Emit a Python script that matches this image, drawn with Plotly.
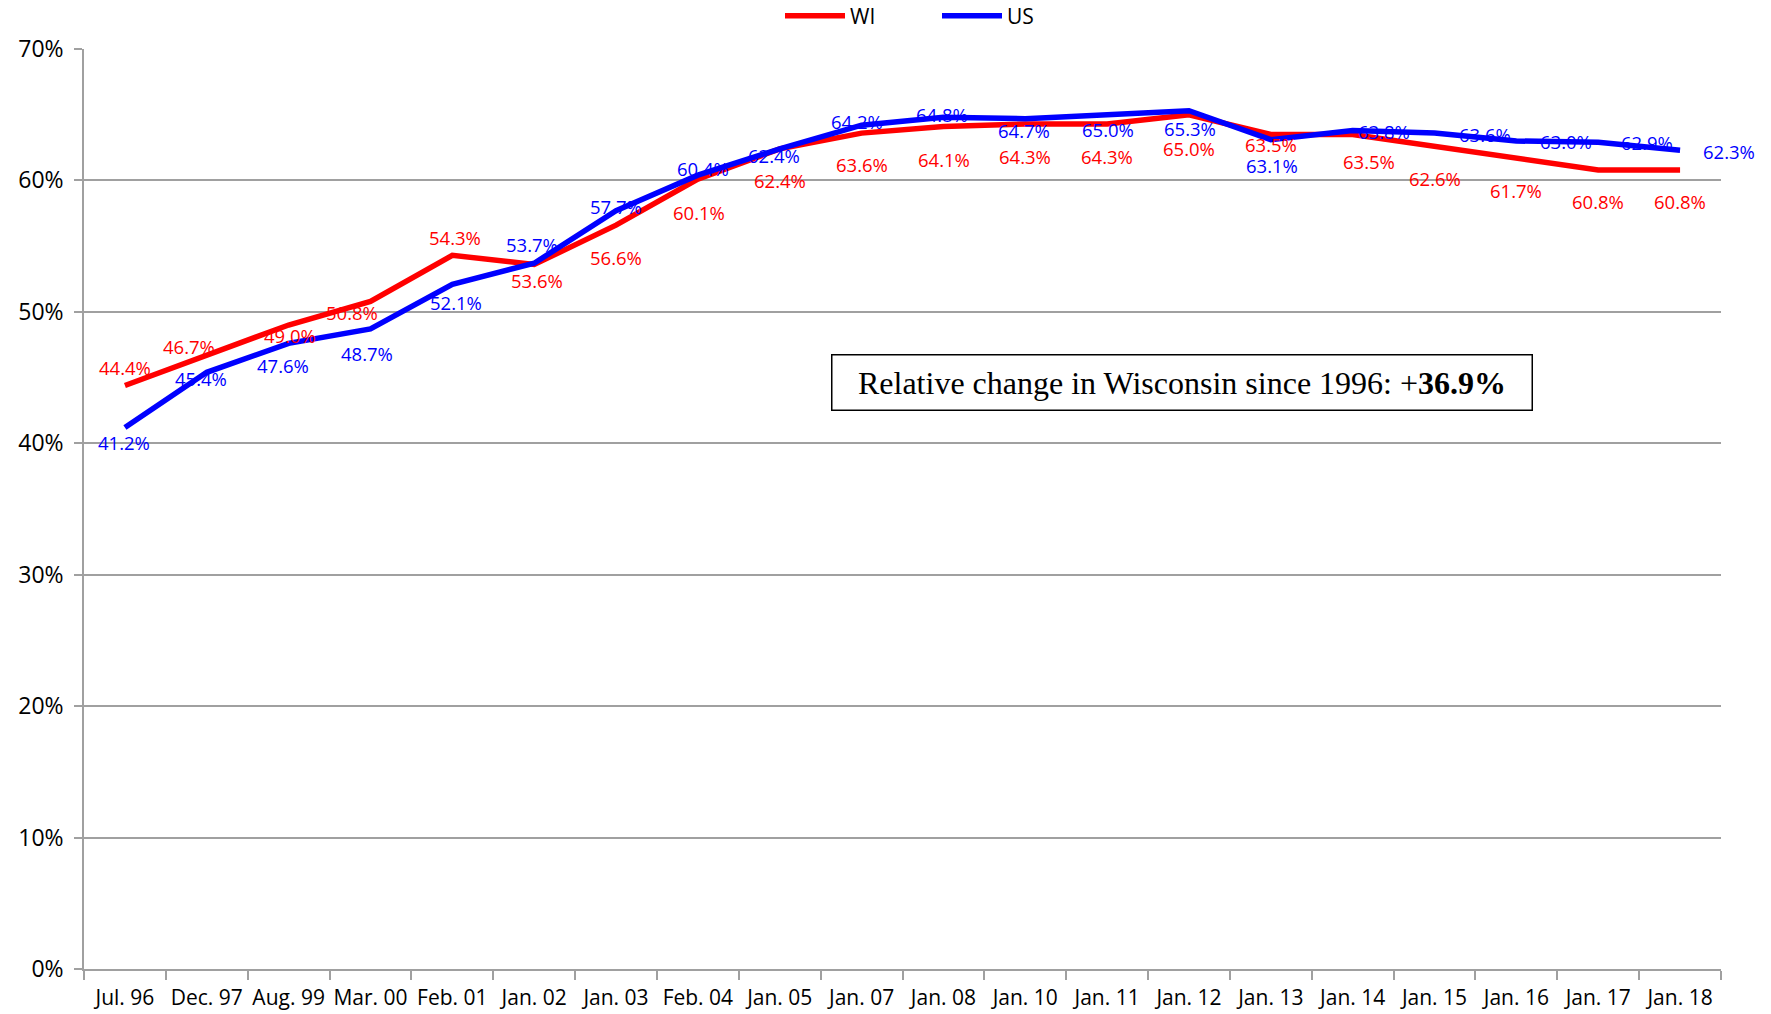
import plotly.graph_objects as go

categories = ["Jul. 96", "Dec. 97", "Aug. 99", "Mar. 00", "Feb. 01", "Jan. 02", "Jan. 03",
              "Feb. 04", "Jan. 05", "Jan. 07", "Jan. 08", "Jan. 10", "Jan. 11", "Jan. 12",
              "Jan. 13", "Jan. 14", "Jan. 15", "Jan. 16", "Jan. 17", "Jan. 18"]
wi_values = [44.4, 46.7, 49.0, 50.8, 54.3, 53.6, 56.6, 60.1, 62.4, 63.6,
             64.1, 64.3, 64.3, 65.0, 63.5, 63.5, 62.6, 61.7, 60.8, 60.8]
us_values = [41.2, 45.4, 47.6, 48.7, 52.1, 53.7, 57.7, 60.4, 62.4, 64.2,
             64.8, 64.7, 65.0, 65.3, 63.1, 63.8, 63.6, 63.0, 62.9, 62.3]
y_ticks = [0, 10, 20, 30, 40, 50, 60, 70]

# label offsets in pixels (dx right, dy down) relative to each point
wi_offsets = [(0, -18), (-18, -9), (1, 10), (-18, 11), (3, -18), (3, 16), (0, 32), (1, 33),
              (0, 32), (0, 31), (1, 33), (0, 33), (0, 33), (0, 34), (0, 10), (16, 27),
              (0, 32), (0, 32), (0, 32), (0, 32)]
us_offsets = [(-1, 15), (-6, 6), (-6, 22), (-3, 25), (4, 18), (-2, -19), (0, -4), (5, -7),
              (-6, 7), (-5, -4), (-1, -3), (-1, 12), (1, 15), (1, 18), (1, 26), (31, 1),
              (50, 1), (50, 0), (49, 0), (49, 1)]

RED = "#FF0000"
BLUE = "#0000FF"
GRID = "#A0A0A0"

fig = go.Figure()
fig.add_trace(go.Scatter(x=categories, y=wi_values, mode="lines", name="WI",
                         line=dict(color=RED, width=5.5)))
fig.add_trace(go.Scatter(x=categories, y=us_values, mode="lines", name="US",
                         line=dict(color=BLUE, width=5.5)))

annotations = []
for cat, v, (dx, dy) in zip(categories, wi_values, wi_offsets):
    annotations.append(dict(x=cat, y=v, xref="x", yref="y", text=f"{v:.1f}%", showarrow=False,
                            xshift=dx, yshift=-dy, font=dict(family="Open Sans", size=18.5, color=RED)))
for cat, v, (dx, dy) in zip(categories, us_values, us_offsets):
    annotations.append(dict(x=cat, y=v, xref="x", yref="y", text=f"{v:.1f}%", showarrow=False,
                            xshift=dx, yshift=-dy, font=dict(family="Open Sans", size=18.5, color=BLUE)))

annotations.append(dict(
    x=0.6708, y=0.6378, xref="paper", yref="paper", xanchor="center", yanchor="middle",
    text="Relative change in Wisconsin since 1996: +<b>36.9%</b>", showarrow=False,
    font=dict(family="Liberation Serif, Times New Roman, serif", size=32, color="black"),
    bgcolor="white", bordercolor="black", borderwidth=1.5, borderpad=2,
    width=695, height=50, align="center", valign="middle"))

fig.update_layout(
    width=1771, height=1014,
    paper_bgcolor="white", plot_bgcolor="white",
    margin=dict(l=84, r=50, t=49, b=45, autoexpand=False),
    showlegend=True,
    legend=dict(orientation="h", xref="container", yref="container",
                x=780 / 1771, xanchor="left", y=1 - 16 / 1014, yanchor="middle",
                font=dict(family="Open Sans", size=21, color="black"),
                itemwidth=60, entrywidth=82, entrywidthmode="pixels",
                bgcolor="rgba(0,0,0,0)"),
    annotations=annotations,
)
fig.update_xaxes(
    type="category", range=[-0.5, len(categories) - 0.5], autorange=False,
    showgrid=False, showline=True, linecolor=GRID, linewidth=1.5,
    ticks="outside", ticklen=9, tickcolor=GRID, tickwidth=1.5, tickson="boundaries",
    tickangle=0, automargin=False, ticklabelstandoff=9,
    tickfont=dict(family="Open Sans", size=21, color="black"),
    mirror=False, zeroline=False,
)
fig.update_yaxes(
    range=[0, 70], autorange=False, tickvals=y_ticks, ticktext=[f"{t}%" for t in y_ticks],
    showgrid=True, gridcolor=GRID, gridwidth=1.5,
    showline=True, linecolor=GRID, linewidth=1.5,
    ticks="outside", ticklen=8, tickcolor=GRID, tickwidth=1.5, automargin=False,
    tickfont=dict(family="Open Sans", size=23, color="black"),
    ticklabelstandoff=6, zeroline=False,
)

fig.write_html("out.html", config={"displayModeBar": False},
               post_script="document.body.style.margin='0';document.body.style.overflow='hidden';")
